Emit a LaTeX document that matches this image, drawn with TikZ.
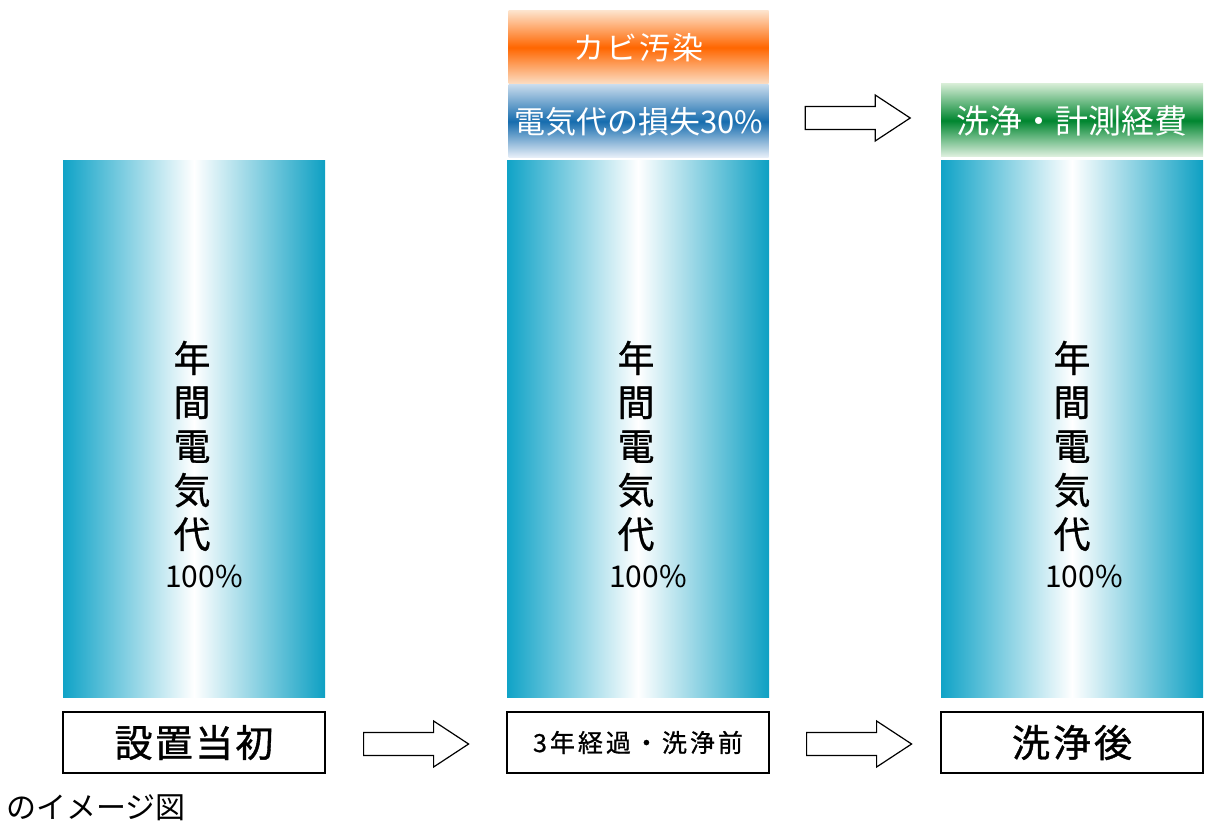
\documentclass[tikz,border=0pt]{standalone}
\usepackage{fontspec}
\newfontfamily\jp{Noto Sans CJK JP}
\usetikzlibrary{calc}
\definecolor{tealA}{RGB}{16,163,199}
\definecolor{tealB}{RGB}{14,160,195}
\definecolor{orgTop}{RGB}{253,226,202}
\definecolor{orgMid}{RGB}{255,102,0}
\definecolor{orgBot}{RGB}{252,222,196}
\definecolor{bluTop}{RGB}{198,218,236}
\definecolor{bluMid}{RGB}{22,108,174}
\definecolor{bluBot}{RGB}{236,242,250}
\definecolor{grnTop}{RGB}{212,236,212}
\definecolor{grnMid}{RGB}{0,134,48}
\definecolor{grnBot}{RGB}{226,242,226}
\newcommand\blockarrow[2]{%
  \coordinate (#1) at #2;
  \draw[arrowbox] (#1) ++(0,-11.5) -- ++(70,0) -- ++(0,-11.5) -- ++(35,23) -- ++(-35,23) -- ++(0,-11.5) -- ++(-70,0) -- cycle;
}
\begin{document}
\begin{tikzpicture}[x=1pt,y=-1pt,
  bar/.style={left color=tealA, right color=tealB, middle color=white, minimum width=262pt, minimum height=536pt, inner sep=0pt},
  topbox/.style={minimum width=260pt, minimum height=73pt, inner sep=0pt, text=white},
  labelbox/.style={draw=black, line width=1.2pt, fill=white, minimum width=262pt, minimum height=61pt, inner sep=0pt},
  vtext/.style={align=center, font=\jp\addfontfeature{FakeBold=0.8}\fontsize{37}{44}\selectfont, inner sep=0pt},
  pct/.style={font=\jp\fontsize{30}{30}\selectfont, inner sep=0pt},
  arrowbox/.style={draw=black, line width=1.2pt, fill=white, line join=miter}
]
\useasboundingbox (0,0) rectangle (1208,832);
% bars
\node[bar] (bar1) at (194,429) {};
\node[bar] (bar2) at (638,429) {};
\node[bar] (bar3) at (1072,429) {};
% vertical texts
\foreach \b/\x in {1/192,2/636,3/1072}{
  \node[vtext] (v\b) at (\x,446) {年\\間\\電\\気\\代};
  \node[pct] (p\b) at (\x+12,577) {100\%};
}
% top boxes
\node[topbox, top color=orgTop, bottom color=orgBot, middle color=orgMid] (org) at (638.5,47.5)
  {\jp\fontsize{31}{31}\selectfont\addfontfeature{LetterSpace=6}カビ汚染};
\node[topbox, top color=bluTop, bottom color=bluBot, middle color=bluMid] (blu) at (638.5,121.5)
  {\jp\fontsize{31}{31}\selectfont 電気代の損失30\%};
\node[topbox, minimum width=262pt, top color=grnTop, bottom color=grnBot, middle color=grnMid] (grn) at (1072,120.5)
  {\jp\fontsize{33}{33}\selectfont 洗浄・計測経費};
% label boxes
\node[labelbox] (lab1) at (194,742.5) {\jp\addfontfeature{FakeBold=1}\fontsize{38}{38}\selectfont\addfontfeature{LetterSpace=6}設置当初};
\node[labelbox] (lab2) at (638,742.5) {\jp\addfontfeature{FakeBold=0.8}\fontsize{25}{25}\selectfont\addfontfeature{LetterSpace=12}3年経過・洗浄前};
\node[labelbox] (lab3) at (1072,742.5) {\jp\addfontfeature{FakeBold=1}\fontsize{38}{38}\selectfont\addfontfeature{LetterSpace=8}洗浄後};
% block arrows
\blockarrow{arr1}{($(lab1.east)+(38,1.5)$)}
\blockarrow{arr2}{($(lab2.east)+(37,1.5)$)}
\blockarrow{arr3}{($(blu.east)+(36.5,-3.5)$)}
% caption
\node[anchor=west, inner sep=0pt, font=\jp\fontsize{30}{30}\selectfont] (cap) at (6,808) {のイメージ図};
\end{tikzpicture}
\end{document}
